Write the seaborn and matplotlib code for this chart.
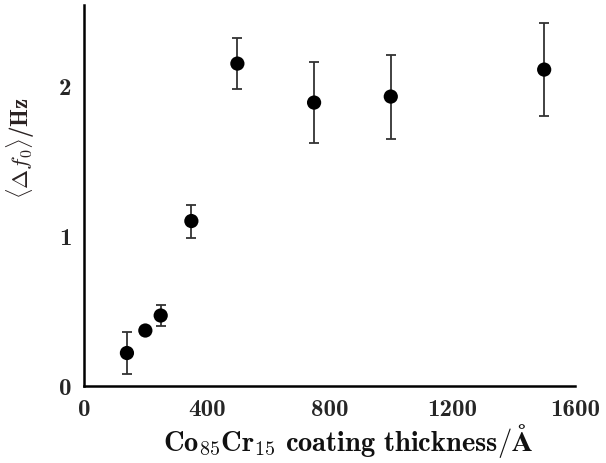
import numpy as np
import pandas as pd
import seaborn as sns
import matplotlib.pyplot as plt

# values
thickness = [140, 200, 250, 350, 500, 750, 1000, 1500]
delta_f0 = [0.22, 0.37, 0.47, 1.10, 2.15, 1.89, 1.93, 2.11]
err = [0.14, 0.0, 0.07, 0.11, 0.17, 0.27, 0.28, 0.31]
x_ticks = [0, 400, 800, 1200, 1600]
y_ticks = [0, 1, 2]

sns.set_style("white")
plt.rcParams['font.family'] = ['cmb10', 'DejaVu Serif']
plt.rcParams['mathtext.fontset'] = 'cm'
plt.rcParams['axes.unicode_minus'] = False

df = pd.DataFrame(dict(thickness=thickness, delta_f0=delta_f0, err=err))

fig = plt.figure(figsize=(6.06, 4.63), dpi=100)
ax = fig.add_axes([0.1386, 0.1663, 0.81, 0.8227])

ax.errorbar(df["thickness"], df["delta_f0"], yerr=df["err"], fmt="none",
            ecolor="#333333", elinewidth=1.3, capsize=3.3, capthick=1.3, zorder=2)
sns.scatterplot(data=df, x="thickness", y="delta_f0", ax=ax, color="black",
                s=105, edgecolor="none", zorder=3, legend=False)

ax.set_xlim(0, 1600)
ax.set_ylim(0, 2.54)
ax.set_xticks(x_ticks)
ax.set_yticks(y_ticks)
ax.set_yticks([1.5], minor=True)
ax.tick_params(axis="x", direction="in", length=8, width=1.2, labelsize=18, pad=9)
ax.tick_params(axis="y", which="major", direction="in", length=15, width=1.5, labelsize=18, pad=9)
ax.tick_params(axis="y", which="minor", direction="in", length=8, width=1.5)
for side in ["top", "right"]:
    ax.spines[side].set_visible(False)
for side in ["left", "bottom"]:
    ax.spines[side].set_linewidth(1.8)
    ax.spines[side].set_color("black")

ax.set_xlabel(r"$\mathbf{Co_{85}Cr_{15}\ coating\ thickness/\AA}$", fontsize=20.5, color="#111111")
ax.xaxis.set_label_coords(0.538, -0.095)
ax.set_ylabel(r"$\langle\Delta f_0\rangle$/Hz", fontsize=16.5, color="#2a2222")
ax.yaxis.set_label_coords(-0.095, 0.625)

fig.savefig("out.png", dpi=100)
